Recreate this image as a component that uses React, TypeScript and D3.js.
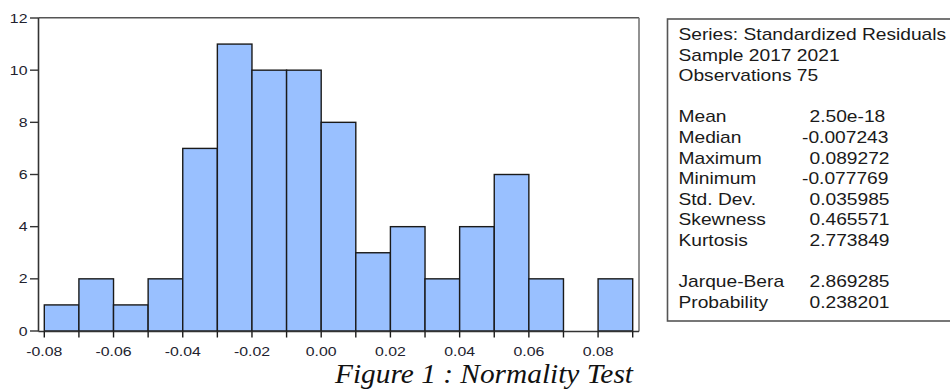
import React from 'react';
import * as d3 from 'd3';

const binStarts = [-0.08, -0.07, -0.06, -0.05, -0.04, -0.03, -0.02, -0.01, 0.0, 0.01, 0.02, 0.03, 0.04, 0.05, 0.06, 0.07, 0.08];
const binWidth = 0.01;
const counts = [1, 2, 1, 2, 7, 11, 10, 10, 8, 3, 4, 2, 4, 6, 2, 0, 2];
const xTickValues = [-0.08, -0.06, -0.04, -0.02, 0, 0.02, 0.04, 0.06, 0.08];
const yTickValues = [0, 2, 4, 6, 8, 10, 12];
const headerLines = ['Series: Standardized Residuals', 'Sample 2017 2021', 'Observations 75'];
const statLabels = ['Mean', 'Median', 'Maximum', 'Minimum', 'Std. Dev.', 'Skewness', 'Kurtosis'];
const statValues = ['2.50e-18', '-0.007243', '0.089272', '-0.077769', '0.035985', '0.465571', '2.773849'];
const testLabels = ['Jarque-Bera', 'Probability'];
const testValues = ['2.869285', '0.238201'];
const caption = 'Figure 1 : Normality Test';

const SANS = '"Liberation Sans", Arial, sans-serif';
const SERIF = '"Liberation Serif", "Times New Roman", serif';

function SText(props: { x: number; y: number; sx: number; anchor?: string; size: number; fill?: string; children: React.ReactNode }) {
  const { x, y, sx, anchor, size, fill, children } = props;
  return (
    <text
      transform={`translate(${x},${y}) scale(${sx},1)`}
      textAnchor={anchor || 'start'}
      fontFamily={SANS}
      fontSize={size}
      fill={fill || '#1a1a1a'}
    >
      {children}
    </text>
  );
}

export default function App() {
  const W = 950;
  const H = 391;
  const x = d3.scaleLinear().domain([-0.08, 0.09]).range([44.3, 632.7]);
  const y = d3.scaleLinear().domain([0, 12]).range([331, 18]);
  const fmt2 = d3.format('.2f');
  const fmtX = (v: number) => fmt2(v).replace('\u2212', '-');

  const frameL = 38.5;
  const frameR = 639;
  const frameT = y(12) - 0.3;
  const frameB = y(0) + 0.5;

  const edges = [...binStarts, binStarts[binStarts.length - 1] + binWidth];

  // stats box
  const boxL = 667.5;
  const boxT = 19;
  const boxB = 321;
  const textX = 678.5;
  const valX = 809.5;
  const lh = 20.6;
  const firstBase = 40;
  const tsx = 1.2;
  const tsize = 16;

  const lines: { label: string; value?: string; row: number }[] = [];
  headerLines.forEach((l, i) => lines.push({ label: l, row: i }));
  statLabels.forEach((l, i) => lines.push({ label: l, value: statValues[i], row: 4 + i }));
  testLabels.forEach((l, i) => lines.push({ label: l, value: testValues[i], row: 12 + i }));

  return (
    <svg width={W} height={H} style={{ position: 'absolute', left: 0, top: 0, background: '#fff' }}>
      <rect x={0} y={0} width={W} height={H} fill="#fff" />
      {/* bars */}
      {binStarts.map((b, i) => (
        <rect
          key={'bar' + i}
          x={x(b)}
          y={y(counts[i])}
          width={x(b + binWidth) - x(b)}
          height={y(0) - y(counts[i])}
          fill="#99c0ff"
          stroke="#1a1a1a"
          strokeWidth={1.4}
        />
      ))}
      {/* frame */}
      <line x1={frameL} x2={frameR} y1={frameT} y2={frameT} stroke="#555" strokeWidth={1.4} />
      <line x1={frameR} x2={frameR} y1={frameT} y2={frameB} stroke="#777" strokeWidth={1.6} />
      <line x1={frameL} x2={frameL} y1={frameT} y2={frameB} stroke="#333" strokeWidth={1.6} />
      <line x1={frameL} x2={frameR} y1={frameB} y2={frameB} stroke="#333" strokeWidth={1.6} />
      {/* bin edge ticks */}
      {edges.map((e, i) => (
        <line key={'et' + i} x1={x(e)} x2={x(e)} y1={frameB} y2={frameB + 6} stroke="#1a1a1a" strokeWidth={1.4} />
      ))}
      {/* y ticks */}
      {yTickValues.map((v) => (
        <g key={'yt' + v}>
          <line x1={30} x2={frameL} y1={y(v)} y2={y(v)} stroke="#333" strokeWidth={1.4} />
          <SText x={27.5} y={y(v) + 4.6} sx={1.22} anchor="end" size={13} fill="#22222e">
            {String(v)}
          </SText>
        </g>
      ))}
      {/* x labels */}
      {xTickValues.map((v) => (
        <SText key={'xl' + v} x={x(v)} y={355.5} sx={1.22} anchor="middle" size={13} fill="#22222e">
          {fmtX(v)}
        </SText>
      ))}
      {/* stats box */}
      <rect x={boxL} y={boxT} width={W - boxL + 20} height={boxB - boxT} fill="#fff" stroke="#555" strokeWidth={1.6} />
      {lines.map((l, i) => (
        <g key={'ln' + i}>
          <SText x={textX} y={firstBase + l.row * lh} sx={tsx} size={tsize}>
            {l.label}
          </SText>
          {l.value !== undefined && (
            <SText x={l.value.startsWith('-') ? valX - 7.5 : valX} y={firstBase + l.row * lh} sx={tsx} size={tsize}>
              {l.value}
            </SText>
          )}
        </g>
      ))}
      {/* caption */}
      <text
        x={335}
        y={383}
        fontFamily={SERIF}
        fontStyle="italic"
        fontSize={27}
        textLength={298}
        lengthAdjust="spacingAndGlyphs"
        fill="#111"
      >
        {caption}
      </text>
    </svg>
  );
}
